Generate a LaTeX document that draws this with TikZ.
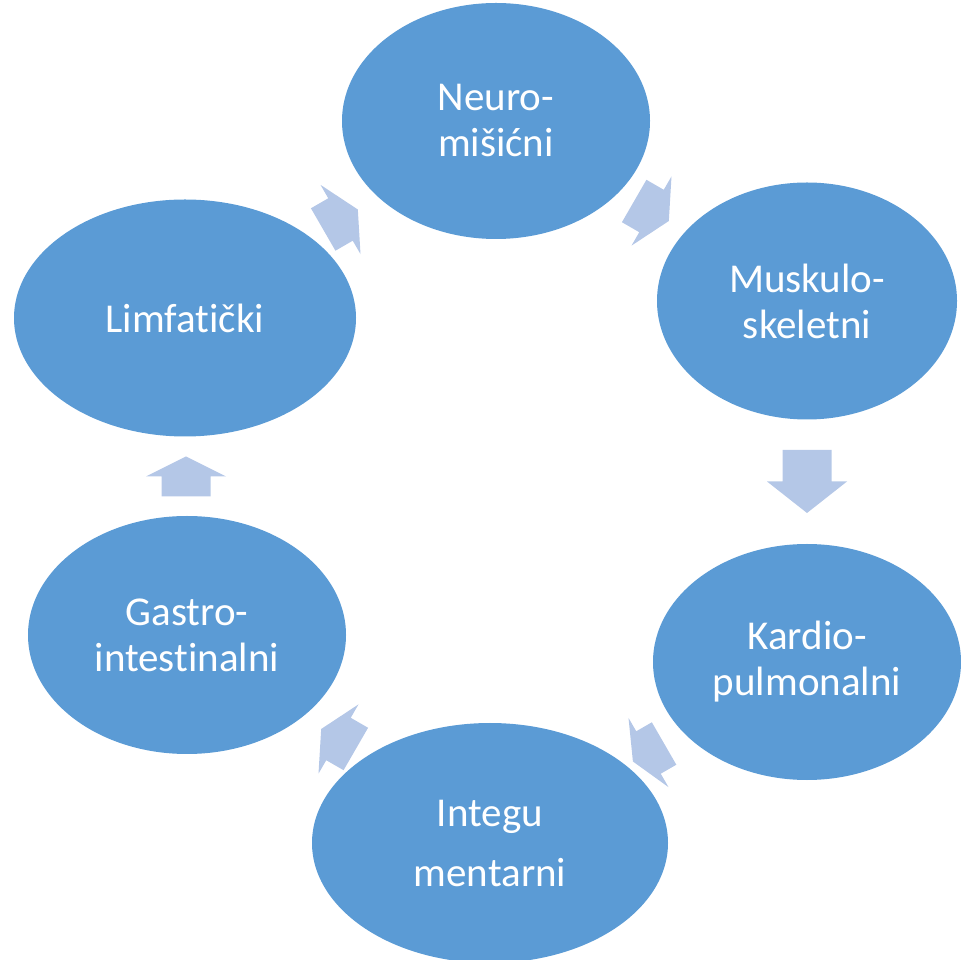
\documentclass[tikz,border=0pt]{standalone}
\usepackage{fontspec}
\setmainfont{Carlito}[Ligatures=NoCommon]
\usetikzlibrary{shapes.geometric,calc}
\definecolor{cyclefill}{HTML}{5B9BD5}
\definecolor{arrowfill}{HTML}{B4C7E7}
\begin{document}
\begin{tikzpicture}[x=1pt, y=1pt,
    organ/.style={ellipse, fill=cyclefill, draw=none, inner sep=0pt, text=white, align=center, font=\fontsize{41}{46}\selectfont},
    blockarrow/.style={fill=arrowfill, draw=none}
]
    \useasboundingbox (0,0) rectangle (961,959);
    \clip (0,0) rectangle (961,959);

    % Nodes
    \node[organ, minimum width=308pt, minimum height=236pt] (neuro) at (496, 838) {Neuro-\\mišićni};
    \node[organ, minimum width=300pt, minimum height=237pt] (musk) at (807, 658) {Muskulo-\\skeletni};
    \node[organ, minimum width=308pt, minimum height=236pt] (kardio) at (807, 297) {Kardio-\\pulmonalni};
    \node[organ, minimum width=356pt, minimum height=240pt] (integu) at (490, 116) {Integu\\[14pt]mentarni};
    \node[organ, minimum width=318pt, minimum height=238pt] (gastro) at (187, 324) {Gastro-\\intestinalni};
    \node[organ, minimum width=342pt, minimum height=237pt] (limf) at (185, 641) {Limfatički};

    % Arrows
    \foreach \from/\to/\ang/\len in {limf/neuro/30/40, neuro/musk/-30/40, musk/kardio/-90/63,
                                     kardio/integu/-150/36, integu/gastro/150/40, gastro/limf/90/40}
        \fill[blockarrow, shift={($(\from)!0.5!(\to)$)}, rotate=\ang]
            (-\len/2,-24.5) -- (0,-24.5) -- (0,-40) -- (\len/2,0) -- (0,40) -- (0,24.5) -- (-\len/2,24.5) -- cycle;
\end{tikzpicture}
\end{document}
